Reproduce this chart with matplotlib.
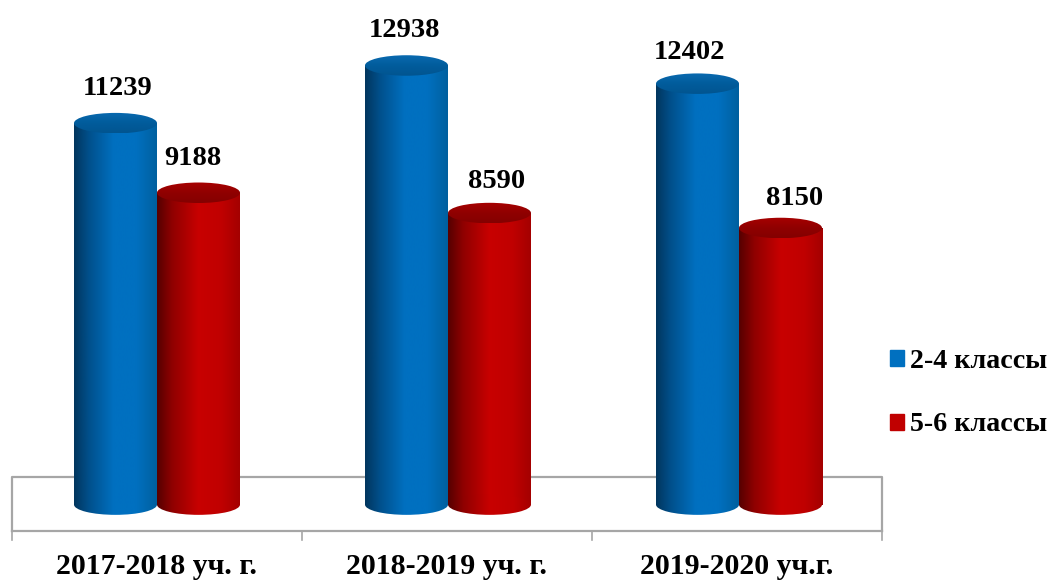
import numpy as np
import matplotlib
matplotlib.use('Agg')
import matplotlib.pyplot as plt
from matplotlib.colors import LinearSegmentedColormap
from matplotlib.patches import Ellipse, Rectangle, Patch

categories = ['2017-2018 уч. г.', '2018-2019 уч. г.', '2019-2020 уч.г.']
grades_2_4 = [11239, 12938, 12402]
grades_5_6 = [9188, 8590, 8150]
series_names = ['2-4 классы', '5-6 классы']

# manual placement of the value labels, in pixels from the top of the bar
shift_2_4 = [2, -2, -8]
shift_5_6 = [-6, 7, 14]
lift_2_4 = [35, 35, 31]
lift_5_6 = [34, 32, 29]
group_shift = [0, 1, 2]

plt.rcParams['font.family'] = ['Liberation Serif', 'DejaVu Serif']
plt.rcParams['font.weight'] = 'bold'

W, H = 1051, 581
px_per_unit = 0.03394
y_zero_px = 504.6
cat_w = 290.0
left_px = 12.0
bar_w = 83.0 / cat_w
ell_h = 20.5 / px_per_unit
pt = 72.0 / 100


def px_x(p):
    return (p - left_px) / cat_w - 0.5


def px_y(p):
    return (y_zero_px - p) / px_per_unit


fig = plt.figure(figsize=(W / 100, H / 100), dpi=100)
ax = fig.add_axes([0, 0, 1, 1])
ax.axis('off')

# floor of the 3d chart
grey = '#a6a6a6'
ax.plot([px_x(12), px_x(12), px_x(882), px_x(882)],
        [px_y(531), px_y(477), px_y(477), px_y(531)], color=grey, lw=1.6, zorder=1)
ax.plot([px_x(12), px_x(882)], [px_y(531), px_y(531)], color=grey, lw=1.6, zorder=1)
for i in range(len(categories) + 1):
    ax.plot([i - 0.5, i - 0.5], [px_y(531), px_y(540)], color=grey, lw=1.2, zorder=1)

body_blue = LinearSegmentedColormap.from_list('bb', [(0, '#01365e'), (0.18, '#01508c'), (0.48, '#0070c0'),
                                                     (0.75, '#0070c0'), (1, '#00609f')])
body_red = LinearSegmentedColormap.from_list('br', [(0, '#560000'), (0.18, '#8f0000'), (0.5, '#c80000'),
                                                    (0.78, '#c00000'), (1, '#a40000')])
top_blue = LinearSegmentedColormap.from_list('tb', ['#0a6ab0', '#015c9c', '#015590'])
top_red = LinearSegmentedColormap.from_list('tr', ['#a80000', '#900000', '#840000'])
grad_x = np.linspace(0, 1, 200).reshape(1, -1)
grad_y = np.linspace(0, 1, 60).reshape(-1, 1)


def cylinder(x0, value, body, top, z):
    xc = x0 + bar_w / 2
    body_ext = [x0, x0 + bar_w, -ell_h, value + ell_h]
    top_ext = [x0, x0 + bar_w, value - ell_h / 2, value + ell_h / 2]
    shapes = [(Rectangle((x0, 0), bar_w, value, transform=ax.transData), body, grad_x, body_ext),
              (Ellipse((xc, 0), bar_w, ell_h, transform=ax.transData), body, grad_x, body_ext),
              (Ellipse((xc, value), bar_w, ell_h, transform=ax.transData), top, grad_y, top_ext)]
    for k, (shape, cmap, grad, ext) in enumerate(shapes):
        im = ax.imshow(grad, extent=ext, aspect='auto', cmap=cmap, zorder=z + k * 0.1,
                       interpolation='bilinear', origin='upper')
        im.set_clip_path(shape)


for i in range(len(categories)):
    c = i + group_shift[i] / cat_w
    cylinder(c - bar_w, grades_2_4[i], body_blue, top_blue, 3)
    cylinder(c, grades_5_6[i], body_red, top_red, 4)
    ax.annotate(str(grades_2_4[i]), (c - bar_w / 2, grades_2_4[i]), xytext=(shift_2_4[i] * pt, lift_2_4[i] * pt),
                textcoords='offset points', ha='center', va='center', fontsize=20.5, zorder=6)
    ax.annotate(str(grades_5_6[i]), (c + bar_w / 2, grades_5_6[i]), xytext=(shift_5_6[i] * pt, lift_5_6[i] * pt),
                textcoords='offset points', ha='center', va='center', fontsize=20.5, zorder=6)
    ax.text(i, px_y(566), categories[i], ha='center', va='center', fontsize=21.5)

ax.set_xlim(px_x(0), px_x(W))
ax.set_ylim(px_y(H), px_y(0))

handles = [Patch(color='#0070c0'), Patch(color='#c00000')]
ax.legend(handles, series_names, loc='center left', bbox_to_anchor=(884 / W, 1 - 393 / H), frameon=False,
          fontsize=20.2, handlelength=0.5, handleheight=0.5, handletextpad=0.21, labelspacing=1.39,
          borderpad=0, borderaxespad=0.2)

fig.savefig('out.png', dpi=100)
